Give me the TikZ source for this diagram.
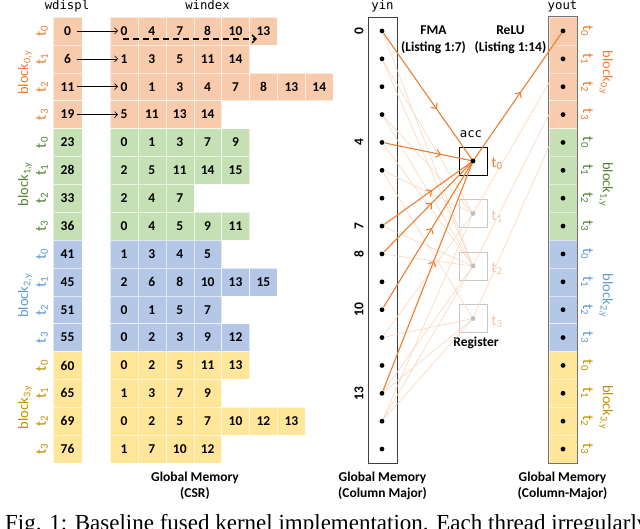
\documentclass[tikz,border=0pt]{standalone}
\usepackage{fontspec}
\setmainfont{Carlito}
\newfontfamily\monof{DejaVu Sans Mono}
\newfontfamily\capf{Liberation Serif}
\usetikzlibrary{arrows.meta,decorations.markings}
\definecolor{blk0}{HTML}{F8CBAD}
\definecolor{blk1}{HTML}{C5E0B4}
\definecolor{blk2}{HTML}{B4C7E7}
\definecolor{blk3}{HTML}{FFE699}
\definecolor{txt0}{HTML}{ED7D31}
\definecolor{txt1}{HTML}{548235}
\definecolor{txt2}{HTML}{5B9BD5}
\definecolor{txt3}{HTML}{BF9000}
\begin{document}
\begin{tikzpicture}[x=1pt,y=-1pt,
  cell/.style={minimum width=27.9pt, minimum height=27.875pt, inner sep=0pt, draw=white, draw opacity=0.6, line width=0.4pt, font=\bfseries\fontsize{13.5}{14}\selectfont},
  ycell/.style={minimum width=28pt, minimum height=27.875pt, inner sep=0pt, draw=white, draw opacity=0.5, line width=0.4pt},
  dot/.style={circle, fill=black, inner sep=0pt, minimum size=4.8pt},
  gdot/.style={circle, fill=black!25, inner sep=0pt, minimum size=4.8pt},
  hdr/.style={font=\monof\fontsize{12.3}{13}\selectfont, anchor=base},
  tlab/.style={font=\fontsize{15.5}{16}\selectfont, inner sep=0pt},
  blab/.style={font=\fontsize{14.5}{15}\selectfont, inner sep=0pt},
  lbl/.style={font=\bfseries\fontsize{13.5}{16.5}\selectfont, align=center, inner sep=0pt},
  bkarrow/.style={line width=0.6pt, -{Straight Barb[length=3pt,width=6pt]}},
  regbox/.style={draw=black, line width=0.7pt, minimum size=28pt, inner sep=0pt},
  gregbox/.style={draw=black!22, line width=0.7pt, minimum size=28pt, inner sep=0pt},
  faint/.style={draw=txt0!32, line width=0.6pt},
  mainln/.style={draw=txt0, line width=1.1pt},
  midarrow/.style={postaction={decorate, decoration={markings, mark=at position #1 with {\arrow[txt0, line width=1.1pt]{Straight Barb[length=4pt,width=8pt]}}}}}
]
\useasboundingbox (0,0) rectangle (640,528);
\clip (0,0) rectangle (640,528);

% headers
\node[hdr] (hwd) at (67,9.5) {wdispl};
\node[hdr] (hwx) at (207.5,9.5) {windex};
\node[hdr] (hyin) at (382.5,9.5) {yin};
\node[hdr] (hyout) at (562.5,9.5) {yout};

% CSR cells
\foreach \r/\w/\l in {0/0/{0,4,7,8,10,13}, 1/6/{1,3,5,11,14}, 2/11/{0,1,3,4,7,8,13,14}, 3/19/{5,11,13,14},
  4/23/{0,1,3,7,9}, 5/28/{2,5,11,14,15}, 6/33/{2,4,7}, 7/36/{0,4,5,9,11},
  8/41/{1,3,4,5}, 9/45/{2,6,8,10,13,15}, 10/51/{0,1,5,7}, 11/55/{0,2,3,9,12},
  12/60/{0,2,5,11,13}, 13/65/{1,3,7,9}, 14/69/{0,2,5,7,10,12,13}, 15/76/{1,7,10,12}} {
  \pgfmathtruncatemacro{\b}{\r/4}
  \pgfmathtruncatemacro{\k}{mod(\r,4)}
  \pgfmathsetmacro{\yc}{30.9375+27.875*\r}
  \node[cell, minimum width=29pt, fill=blk\b] (wd-\r) at (67.5,\yc) {\w};
  \foreach \v [count=\j from 0] in \l {
    \node[cell, fill=blk\b] (wx-\r-\j) at ({123.95+27.9*\j},\yc) {\v};
  }
  \node[tlab, rotate=90, text=txt\b] (lt-\r) at (42,\yc) {t\textsubscript{\k}};
  \node[ycell, fill=blk\b] (yo-\r) at (563,\yc) {};
  \node[tlab, rotate=-90, text=txt\b] (rt-\r) at (587,\yc) {t\textsubscript{\k}};
}
\foreach \r in {0,1,2,3}{
  \draw[bkarrow] ([xshift=9pt]wd-\r.center) -- ([xshift=-6pt]wx-\r-0.center);
}
\draw[line width=1.3pt, dash pattern=on 6pt off 4pt, -{Straight Barb[length=4pt,width=8pt]}]
  ([xshift=-1pt,yshift=-8pt]wx-0-0.center) -- ([xshift=-6.5pt,yshift=-8pt]wx-0-5.center);

% block labels
\foreach \b in {0,1,2,3}{
  \pgfmathsetmacro{\yb}{72.75+111.5*\b}
  \node[blab, rotate=90, text=txt\b] (lb-\b) at (25,\yb) {block\textsubscript{\b,y}};
  \node[blab, rotate=-90, text=txt\b] (rb-\b) at (606,\yb) {block\textsubscript{\b,y}};
}

\node[lbl] (gm1) at (195,486) {Global Memory\\(CSR)};
\node[lbl] (gm2) at (382.5,486) {Global Memory\\(Column Major)};
\node[lbl] (gm3) at (562.5,486) {Global Memory\\(Column-Major)};

% yin column
\node[draw=black!75, line width=0.8pt, minimum width=29pt, minimum height=446pt, inner sep=0pt] (yinbox) at (382.5,240) {};
\foreach \i in {0,4,7,8,10,13}{
  \pgfmathsetmacro{\yc}{30.9375+27.875*\i}
  \node[font=\bfseries\fontsize{13.5}{14}\selectfont, rotate=90, inner sep=0pt] (yl-\i) at (359,\yc) {\i};
}
% yout border
\draw[line width=1.2pt, draw=black!55] (yo-0.north west) rectangle (yo-15.south east);

% registers
\node[regbox] (acc) at (473,161) {};
\node[gregbox] (r1) at (473,213.5) {};
\node[gregbox] (r2) at (473,266) {};
\node[gregbox] (r3) at (473,318.5) {};
\node[hdr] (acclab) at (471,137) {acc};
\node[tlab, text=txt0] (lt0) at (497,164) {t\textsubscript{0}};
\node[tlab, text=txt0!45] (lt1) at (497,216.5) {t\textsubscript{1}};
\node[tlab, text=txt0!45] (lt2) at (497,269) {t\textsubscript{2}};
\node[tlab, text=txt0!45] (lt3) at (497,321.5) {t\textsubscript{3}};
\node[lbl] (reglab) at (476,343) {Register};
\node[lbl] (fma) at (433.5,40) {FMA\\(Listing 1:7)};
\node[lbl] (relu) at (510.5,40) {ReLU\\(Listing 1:14)};

% dot positions
\foreach \r in {0,...,15}{
  \pgfmathsetmacro{\yc}{30.9375+27.875*\r}
  \coordinate (yic-\r) at (382,\yc);
  \coordinate (ydc-\r) at (563,\yc);
}
\coordinate (rd0) at (acc.center);
\coordinate (rd1) at (r1.center);
\coordinate (rd2) at (r2.center);
\coordinate (rd3) at (r3.center);

% faint lines
\foreach \i in {1,3,5,11,14}{ \draw[faint, shorten <=3pt] (yic-\i) -- (rd1); }
\foreach \i in {0,1,3,4,7,8,13,14}{ \draw[faint, shorten <=3pt] (yic-\i) -- (rd2); }
\foreach \i in {5,11,13,14}{ \draw[faint, shorten <=3pt] (yic-\i) -- (rd3); }
\draw[faint] (rd1) -- (ydc-1);
\draw[faint] (rd2) -- (ydc-2);
\draw[faint] (rd3) -- (ydc-3);

% main arrows
\draw[mainln, shorten <=3pt, midarrow=0.6] (yic-0) -- (rd0);
\draw[mainln, shorten <=3pt, midarrow=0.65] (yic-4) -- (rd0);
\draw[mainln, shorten <=3pt, midarrow=0.55] (yic-7) -- (rd0);
\draw[mainln, shorten <=3pt, midarrow=0.55] (yic-8) -- (rd0);
\draw[mainln, shorten <=3pt, midarrow=0.55] (yic-10) -- (rd0);
\draw[mainln, shorten <=3pt, midarrow=0.57] (yic-13) -- (rd0);
\draw[mainln, midarrow=0.53] (rd0) -- (ydc-0);

\foreach \r in {0,...,15}{
  \node[dot] (yi-\r) at (yic-\r) {};
  \node[dot] (yd-\r) at (ydc-\r) {};
}
\node[dot] (accd) at (rd0) {};
\node[gdot] (gd1) at (rd1) {};
\node[gdot] (gd2) at (rd2) {};
\node[gdot] (gd3) at (rd3) {};

% caption (cut off at the lower edge, as in the reference)
\node[anchor=base west, inner sep=0pt, font=\capf\fontsize{23}{24}\selectfont] (cap) at (5,530) {Fig. 1: Baseline fused kernel implementation. Each thread irregularly};
\end{tikzpicture}
\end{document}
